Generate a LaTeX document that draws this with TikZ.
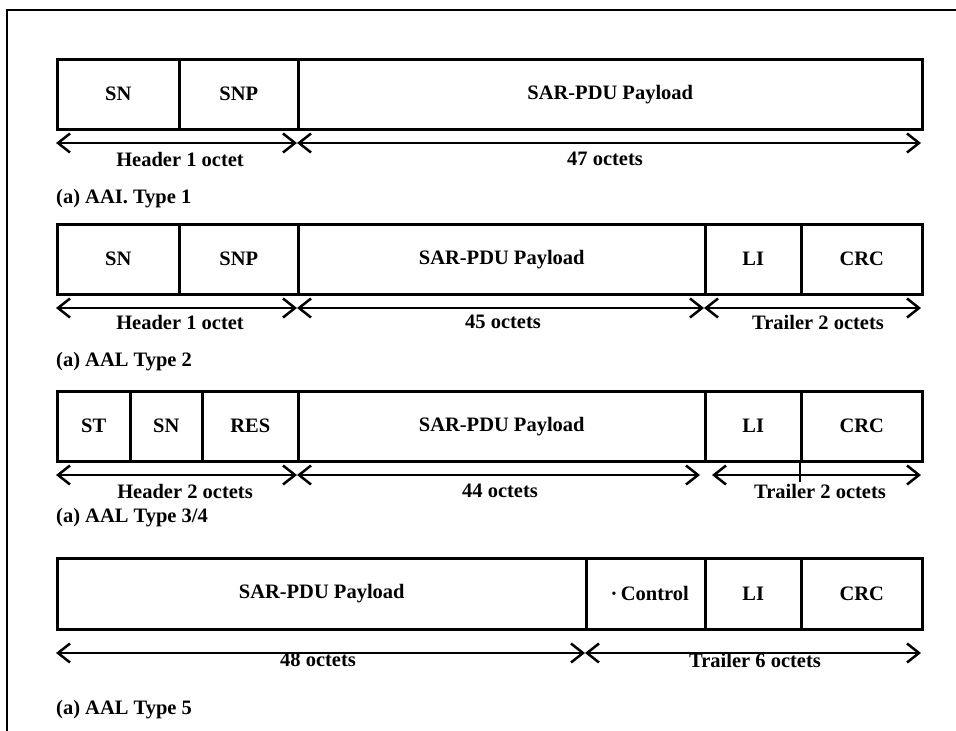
\documentclass[tikz,border=0pt]{standalone}
\usepackage{fontspec}
\setmainfont{Liberation Serif}
\usetikzlibrary{arrows.meta}
\begin{document}
\begin{tikzpicture}[x=1pt,y=-1pt]
\useasboundingbox (0,0) rectangle (956,731);
\tikzset{
  fld/.style={draw, line width=2.5pt, minimum height=70pt, inner sep=0pt, anchor=north west, font=\fontsize{20.5}{24}\selectfont\bfseries},
  lbl/.style={inner sep=0pt, font=\fontsize{20.5}{24}\selectfont\bfseries},
  captxt/.style={lbl, anchor=west},
  dim/.style={line width=2.5pt, {Straight Barb[length=12pt,width=19pt]}-{Straight Barb[length=12pt,width=19pt]}},
  frm/.style={line width=2pt},
}
% frame
\coordinate (fbl) at (7,731);
\coordinate (ftl) at (7,10);
\coordinate (ftr) at (956,10);
\draw[frm] (fbl) -- (ftl) -- (ftr);

% ---------- Row 1 ----------
\node[fld, minimum width=122pt] (r1sn) at (56,58) {SN};
\node[fld, minimum width=119pt] (r1snp) at (178,58) {SNP};
\node[fld, minimum width=624pt] (r1pl) at (297,58) {SAR-PDU Payload\hspace{16pt}};
\coordinate (a1l) at (56,143);
\coordinate (a1m) at (297,143);
\coordinate (a1r) at (921,143);
\draw[dim] (a1l) -- (a1m);
\draw[dim] (a1m) -- (a1r);
\node[lbl] (h1) at (180,159) {Header 1 octet};
\node[lbl] (p1) at (605,159) {47 octets};
\node[captxt] (c1) at (56,199) {(a) AAI. Type 1};

% ---------- Row 2 ----------
\node[fld, minimum width=122pt] (r2sn) at (56,223) {SN};
\node[fld, minimum width=119pt] (r2snp) at (178,223) {SNP};
\node[fld, minimum width=407pt] (r2pl) at (297,223) {SAR-PDU Payload};
\node[fld, minimum width=96pt] (r2li) at (704,223) {LI};
\node[fld, minimum width=121pt] (r2crc) at (800,223) {CRC};
\coordinate (a2l) at (56,308);
\coordinate (a2m) at (297,308);
\coordinate (a2n) at (704,308);
\coordinate (a2r) at (921,308);
\draw[dim] (a2l) -- (a2m);
\draw[dim] (a2m) -- (a2n);
\draw[dim] (a2n) -- (a2r);
\node[lbl] (h2) at (180,322) {Header 1 octet};
\node[lbl] (p2) at (503,322) {45 octets};
\node[lbl] (t2) at (818,322) {Trailer 2 octets};
\node[captxt] (c2) at (56,362) {(a) AAL Type 2};

% ---------- Row 3 ----------
\node[fld, minimum width=73pt] (r3st) at (56,390) {ST};
\node[fld, minimum width=72pt] (r3sn) at (129,390) {SN};
\node[fld, minimum width=96pt] (r3res) at (201,390) {RES};
\node[fld, minimum width=407pt] (r3pl) at (297,390) {SAR-PDU Payload};
\node[fld, minimum width=96pt] (r3li) at (704,390) {LI};
\node[fld, minimum width=121pt] (r3crc) at (800,390) {CRC};
\coordinate (a3l) at (56,475);
\coordinate (a3m) at (297,475);
\coordinate (a3n) at (700,475);
\coordinate (a3o) at (712,475);
\coordinate (a3r) at (921,475);
\coordinate (tk3) at (800,482);
\draw[dim] (a3l) -- (a3m);
\draw[dim] (a3m) -- (a3n);
\draw[dim] (a3o) -- (a3r);
\draw[line width=2pt] (r3crc.south west) -- (tk3);
\node[lbl] (h3) at (185,491) {Header 2 octets};
\node[lbl] (p3) at (500,491) {44 octets};
\node[lbl] (t3) at (820,491) {Trailer 2 octets};
\node[captxt] (c3) at (56,518) {(a) AAL Type 3/4};

% ---------- Row 4 ----------
\node[fld, minimum width=529pt, minimum height=71pt] (r4pl) at (56,557) {SAR-PDU Payload\hspace{30pt}};
\node[fld, minimum width=119pt, minimum height=71pt] (r4ct) at (585,557) {\hspace{8pt}·\,Control};
\node[fld, minimum width=96pt, minimum height=71pt] (r4li) at (704,557) {LI};
\node[fld, minimum width=121pt, minimum height=71pt] (r4crc) at (800,557) {CRC};
\node[lbl] (p4) at (318,660) {48 octets};
\node[lbl] (t4) at (755,660) {Trailer 6 octets};
\coordinate (a4l) at (56,653);
\coordinate (a4m) at (585,653);
\coordinate (a4r) at (921,653);
\draw[dim] (a4l) -- (a4m);
\draw[dim] (a4m) -- (a4r);
\node[captxt] (c4) at (56,710) {(a) AAL Type 5};
\end{tikzpicture}
\end{document}
